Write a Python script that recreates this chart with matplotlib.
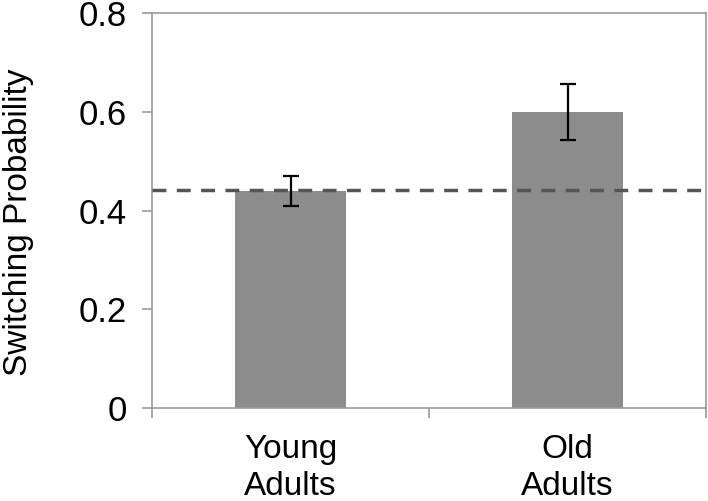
import matplotlib
matplotlib.use("Agg")
import matplotlib.pyplot as plt
import numpy as np

groups = ["Young\nAdults", "Old\nAdults"]
prob = [0.44, 0.60]
err = [0.03, 0.057]
chance = 0.441

plt.rcParams["font.family"] = ["Liberation Sans", "DejaVu Sans"]

fig = plt.figure(figsize=(7.08, 5.01), dpi=100)
ax = fig.add_axes([152 / 708, 1 - 408 / 501, (706 - 152) / 708, (408 - 13) / 501])

x = np.arange(len(groups))
ax.bar(x, prob, width=0.4, color="#8c8c8c", zorder=2)
ax.errorbar(x, prob, yerr=err, fmt="none", ecolor="black", elinewidth=1.6,
            capsize=6, capthick=1.6, zorder=3)
ax.axhline(chance, color="#555555", ls=(0, (4, 3)), lw=2.5, zorder=4)

ax.set_xlim(-0.5, 1.5)
ax.set_ylim(0, 0.8)
ax.set_yticks([0, 0.2, 0.4, 0.6, 0.8])
ax.set_yticklabels(["0", "0.2", "0.4", "0.6", "0.8"])
ax.set_xticks([-0.5, 0.5, 1.5])
ax.set_xticklabels([])
ax.set_xticks(x, minor=True)
ax.set_xticklabels(groups, minor=True, fontsize=24, linespacing=1.22)
ax.tick_params(axis="x", which="minor", length=0, pad=19)
ax.tick_params(axis="x", which="major", length=7, color="#999999", width=1.2)
ax.tick_params(axis="y", length=7, color="#999999", width=1.2, labelsize=25, pad=11)

for s in ax.spines.values():
    s.set_color("#999999")
    s.set_linewidth(1.2)

ax.set_ylabel("Switching Probability", fontsize=24)
ax.yaxis.set_label_coords(-0.213, 0.47)

fig.savefig("out.png", dpi=100)
